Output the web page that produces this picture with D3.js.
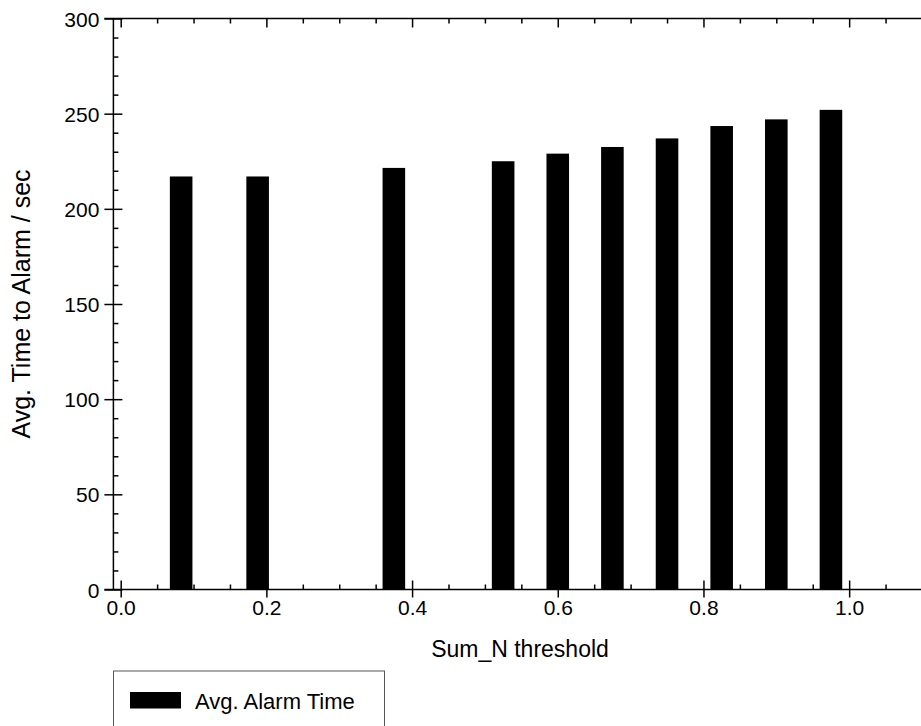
<!DOCTYPE html>
<meta charset="utf-8">
<style>
body { margin: 0; background: #fff; }
text { font-family: "Liberation Sans", Arial, sans-serif; fill: #000; }
.axis path { display: none; }
.axis line { stroke: #000; stroke-width: 1.5; }
.axis text { font-size: 21px; }
</style>
<body>
<script src="https://d3js.org/d3.v7.min.js"></script>
<script>

// data
var thresholds = [0.083, 0.188, 0.375, 0.525, 0.6, 0.675, 0.75, 0.825, 0.9, 0.975];
var alarmTimes = [217, 217, 221.5, 225, 229, 232.5, 237, 243.5, 247, 252];
var xTicks = [0, 0.2, 0.4, 0.6, 0.8, 1.0];
var xMinor = [0.05, 0.1, 0.15, 0.25, 0.3, 0.35, 0.45, 0.5, 0.55, 0.65, 0.7, 0.75, 0.85, 0.9, 0.95, 1.05];
var yTicks = [0, 50, 100, 150, 200, 250, 300];
var yMinor = [10, 20, 30, 40, 60, 70, 80, 90, 110, 120, 130, 140, 160, 170, 180, 190,
              210, 220, 230, 240, 260, 270, 280, 290];
var seriesName = "Avg. Alarm Time";

var width = 921, height = 726;
var barWidth = 0.031;

var svg = d3.select("body").append("svg")
    .attr("width", width)
    .attr("height", height);

var x = d3.scaleLinear()
    .domain([-0.01, 1.1])
    .range([113.4, 922]);

var y = d3.scaleLinear()
    .domain([0, 300])
    .range([589.5, 18.5]);

var x0 = x.range()[0];

// bars
svg.append("g")
  .selectAll("rect")
  .data(thresholds)
  .enter().append("rect")
    .attr("x", function(d) { return x(d - barWidth / 2); })
    .attr("width", function(d) { return x(d + barWidth / 2) - x(d - barWidth / 2); })
    .attr("y", function(d, i) { return y(alarmTimes[i]); })
    .attr("height", function(d, i) { return y(0) - y(alarmTimes[i]); })
    .attr("fill", "#000");

// bottom axis, major ticks cross the line
var gx = svg.append("g")
    .attr("class", "axis")
    .attr("transform", "translate(0," + y(0) + ")")
    .call(d3.axisBottom(x).tickValues(xTicks).tickSize(8).tickPadding(3)
      .tickFormat(d3.format(".1f")));
gx.selectAll(".tick line").attr("y1", -9);

svg.append("g")
    .attr("class", "axis")
    .attr("transform", "translate(0," + y(0) + ")")
    .call(d3.axisBottom(x).tickValues(xMinor).tickSize(-5).tickFormat(""));

// top axis, ticks inside only
svg.append("g")
    .attr("class", "axis")
    .attr("transform", "translate(0," + y(300) + ")")
    .call(d3.axisTop(x).tickValues(xTicks).tickSize(-9).tickFormat(""));

svg.append("g")
    .attr("class", "axis")
    .attr("transform", "translate(0," + y(300) + ")")
    .call(d3.axisTop(x).tickValues(xMinor).tickSize(-5).tickFormat(""));

// left axis
var gy = svg.append("g")
    .attr("class", "axis")
    .attr("transform", "translate(" + x0 + ",0)")
    .call(d3.axisLeft(y).tickValues(yTicks).tickSize(9).tickPadding(5));
gy.selectAll(".tick line").attr("x1", 9);
gy.selectAll(".tick text").attr("dy", "0.36em");

svg.append("g")
    .attr("class", "axis")
    .attr("transform", "translate(" + x0 + ",0)")
    .call(d3.axisLeft(y).tickValues(yMinor).tickSize(-5).tickFormat(""));

// axis lines
svg.append("line")
    .attr("x1", x0).attr("x2", x0)
    .attr("y1", y(300)).attr("y2", y(0))
    .attr("stroke", "#000").attr("stroke-width", 1.5);

svg.append("line")
    .attr("x1", x0 - 9).attr("x2", width)
    .attr("y1", y(0)).attr("y2", y(0))
    .attr("stroke", "#000").attr("stroke-width", 1.5);

svg.append("line")
    .attr("x1", x0 - 9).attr("x2", width)
    .attr("y1", y(300)).attr("y2", y(300))
    .attr("stroke", "#000").attr("stroke-width", 1.5);

// axis titles
svg.append("text")
    .attr("x", 520)
    .attr("y", 657)
    .attr("text-anchor", "middle")
    .style("font-size", "23px")
    .text("Sum_N threshold");

svg.append("text")
    .attr("transform", "translate(30," + ((y(0) + y(300)) / 2) + ") rotate(-90)")
    .attr("text-anchor", "middle")
    .style("font-size", "25px")
    .text("Avg. Time to Alarm / sec");

// legend
var legend = svg.append("g")
    .attr("transform", "translate(113.5,671)");

legend.append("rect")
    .attr("width", 271)
    .attr("height", 80)
    .attr("fill", "none")
    .attr("stroke", "#555")
    .attr("stroke-width", 1);

legend.append("rect")
    .attr("x", 16.5)
    .attr("y", 21)
    .attr("width", 51)
    .attr("height", 16.5)
    .attr("fill", "#000");

legend.append("text")
    .attr("x", 81.5)
    .attr("y", 37.5)
    .style("font-size", "22px")
    .text(seriesName);

</script>
</body>
